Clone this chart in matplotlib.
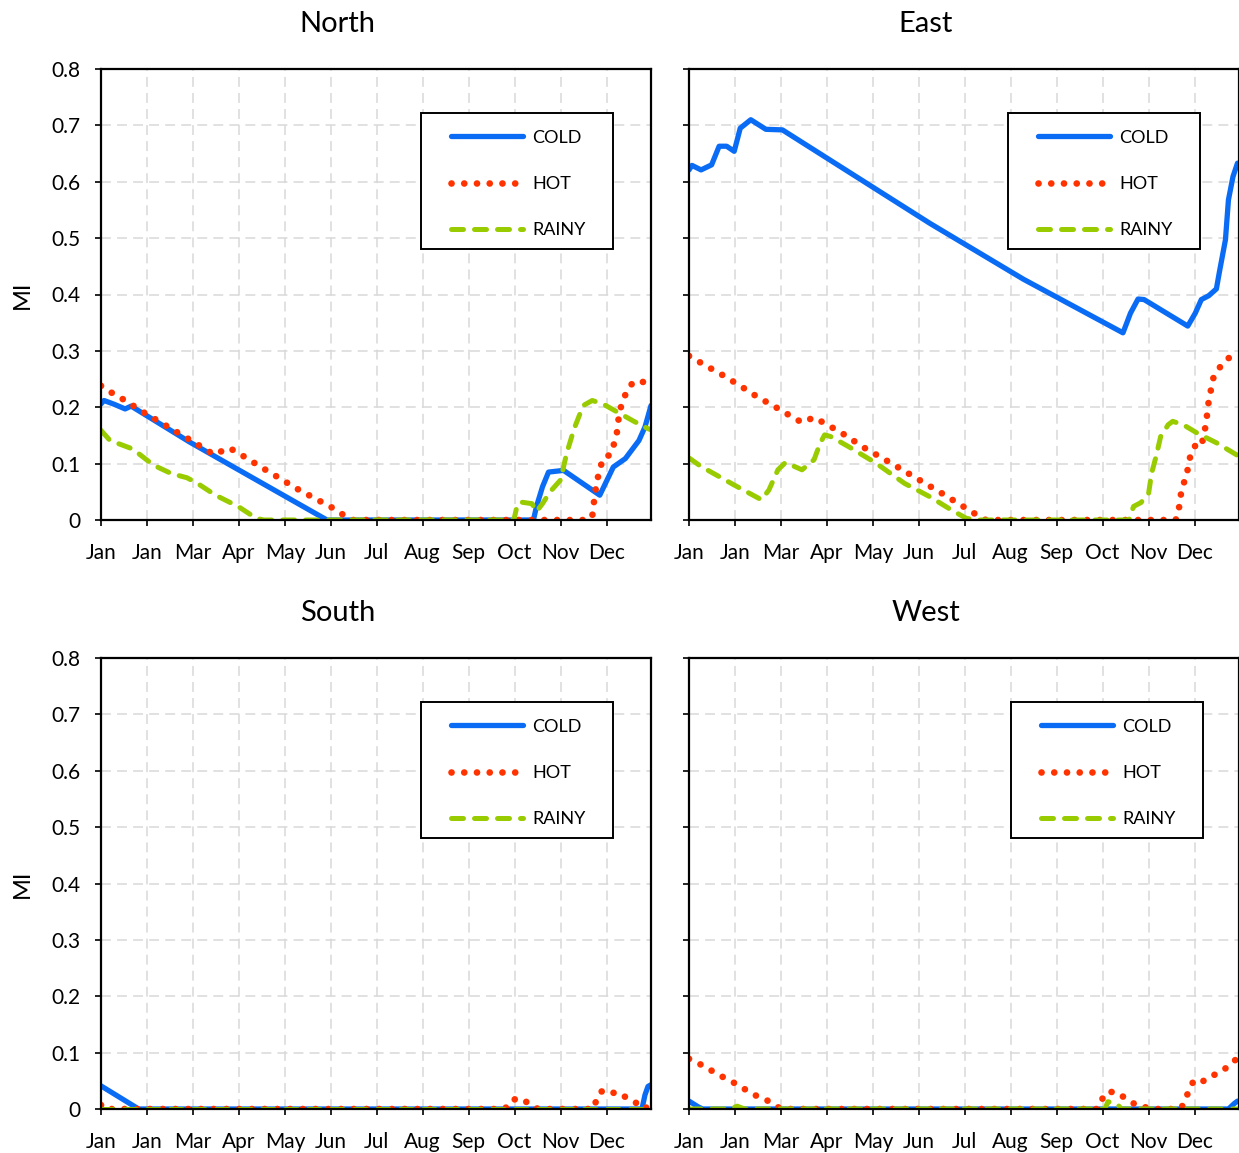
import numpy as np
import matplotlib
matplotlib.use("Agg")
import matplotlib.pyplot as plt
from matplotlib.patches import Rectangle

plt.rcParams['font.family'] = ['Lato', 'DejaVu Sans']

# --- data (day of year, MI) ---
month_labels = ['Jan', 'Jan', 'Mar', 'Apr', 'May', 'Jun', 'Jul', 'Aug', 'Sep', 'Oct', 'Nov', 'Dec']
regions = ['North', 'East', 'South', 'West']
series_names = ['COLD', 'HOT', 'RAINY']

north_cold_x = [0, 2, 9, 16, 20, 59, 88, 146, 150, 287, 289, 293, 297, 307, 331, 340, 348, 357, 361, 365]
north_cold_y = [0.206, 0.212, 0.205, 0.197, 0.202, 0.138, 0.094, 0.006, 0, 0, 0.024, 0.059, 0.085,
                0.088, 0.044, 0.094, 0.109, 0.141, 0.165, 0.203]
north_hot_x = [0, 5, 16, 27, 44, 61, 75, 85, 91, 108, 131, 154, 166, 323, 326, 327, 329, 333, 338,
               342, 344, 346, 349, 353, 358, 365]
north_hot_y = [0.238, 0.229, 0.212, 0.193, 0.166, 0.139, 0.116, 0.128, 0.119, 0.091, 0.054, 0.021, 0,
               0, 0.006, 0.029, 0.068, 0.109, 0.116, 0.147, 0.191, 0.209, 0.229, 0.244, 0.247, 0.238]
north_rainy_x = [0, 6, 21, 35, 47, 57, 64, 76, 91, 103, 108, 274, 276, 278, 286, 289, 293, 298, 305,
                 309, 314, 320, 326, 333, 343, 353, 363, 365]
north_rainy_y = [0.159, 0.141, 0.126, 0.097, 0.082, 0.075, 0.065, 0.044, 0.024, 0.003, 0, 0, 0.024,
                 0.032, 0.029, 0.015, 0.029, 0.05, 0.071, 0.118, 0.162, 0.203, 0.212, 0.206, 0.191,
                 0.176, 0.162, 0.16]

east_cold_x = [0, 2, 8, 15, 20, 25, 30, 34, 41, 51, 62, 160, 222, 288, 293, 298, 302, 331, 336, 340,
               345, 350, 352, 356, 358, 361, 364]
east_cold_y = [0.621, 0.629, 0.621, 0.63, 0.663, 0.663, 0.654, 0.695, 0.71, 0.693, 0.692, 0.526, 0.427,
               0.332, 0.367, 0.392, 0.391, 0.344, 0.367, 0.391, 0.398, 0.41, 0.44, 0.497, 0.568,
               0.609, 0.633]
east_hot_x = [0, 11, 23, 34, 45, 57, 69, 75, 83, 89, 101, 117, 134, 151, 168, 185, 191, 197, 323, 325,
              327, 330, 333, 336, 340, 343, 345, 348, 352, 358, 365]
east_hot_y = [0.291, 0.274, 0.256, 0.238, 0.219, 0.201, 0.182, 0.173, 0.182, 0.173, 0.155, 0.127, 0.101,
              0.074, 0.047, 0.019, 0.009, 0, 0, 0.018, 0.056, 0.077, 0.118, 0.132, 0.13, 0.169, 0.213,
              0.252, 0.27, 0.287, 0.296]
east_rainy_x = [0, 8, 18, 30, 39, 48, 53, 59, 64, 75, 83, 87, 90, 94, 106, 124, 143, 160, 174, 184, 191,
                292, 295, 300, 305, 307, 310, 313, 318, 321, 328, 338, 350, 365]
east_rainy_y = [0.11, 0.095, 0.08, 0.062, 0.049, 0.036, 0.053, 0.089, 0.102, 0.089, 0.107, 0.136, 0.151,
                0.148, 0.13, 0.101, 0.065, 0.041, 0.018, 0.003, 0, 0, 0.024, 0.031, 0.047, 0.083, 0.113,
                0.148, 0.169, 0.175, 0.169, 0.153, 0.137, 0.113]

south_cold_x = [0, 25, 359, 361, 363, 365]
south_cold_y = [0.041, 0, 0, 0.025, 0.04, 0.043]
south_hot_x = [0, 2, 268, 270, 273, 275, 282, 287, 290, 327, 329, 332, 338, 343, 346, 353, 357, 360, 365]
south_hot_y = [0.007, 0, 0, 0.007, 0.01, 0.019, 0.013, 0.005, 0, 0, 0.019, 0.031, 0.033, 0.023, 0.024,
               0.015, 0.007, 0, 0.007]
south_rainy_x = [0, 365]
south_rainy_y = [0, 0]

west_cold_x = [0, 6, 9, 358, 362, 364]
west_cold_y = [0.014, 0.004, 0, 0, 0.01, 0.014]
west_hot_x = [0, 5, 11, 17, 23, 29, 34, 41, 46, 52, 58, 61, 271, 274, 276, 282, 288, 293, 299, 303, 308,
              325, 327, 329, 332, 335, 341, 345, 350, 354, 358, 362, 364]
west_hot_y = [0.089, 0.083, 0.074, 0.065, 0.056, 0.048, 0.039, 0.03, 0.021, 0.015, 0.005, 0, 0, 0.016,
              0.028, 0.031, 0.022, 0.013, 0.004, 0.003, 0, 0, 0.003, 0.016, 0.033, 0.051, 0.049, 0.057,
              0.062, 0.068, 0.076, 0.086, 0.089]
west_rainy_x = [0, 27, 32, 34, 37, 276, 278, 281, 284, 287, 365]
west_rainy_y = [0, 0, 0.005, 0.003, 0, 0, 0.013, 0.011, 0.009, 0, 0]

panel_data = {
    'North': [(north_cold_x, north_cold_y), (north_hot_x, north_hot_y), (north_rainy_x, north_rainy_y)],
    'East': [(east_cold_x, east_cold_y), (east_hot_x, east_hot_y), (east_rainy_x, east_rainy_y)],
    'South': [(south_cold_x, south_cold_y), (south_hot_x, south_hot_y), (south_rainy_x, south_rainy_y)],
    'West': [(west_cold_x, west_cold_y), (west_hot_x, west_hot_y), (west_rainy_x, west_rainy_y)],
}

# --- styling ---
W, H = 1239, 1153
tick_step = 30.5
styles = [
    dict(color='#0A6CF5', lw=3.8, linestyle='-', solid_capstyle='round', solid_joinstyle='round'),
    dict(color='#FF3300', lw=4.8, linestyle=(0, (0.01, 1.9)), dash_capstyle='round'),
    dict(color='#99CC00', lw=3.6, linestyle=(0, (2.4, 2.2)), dash_capstyle='round'),
]
# axes boxes in pixels: left, top
boxes = {'North': (101, 69), 'East': (689, 69), 'South': (101, 658), 'West': (689, 658)}
legend_left = {'North': 0.582, 'East': 0.58, 'South': 0.582, 'West': 0.586}
ax_w, ax_h = 550, 451

fig = plt.figure(figsize=(W / 100, H / 100), dpi=100)

for name in regions:
    left, top = boxes[name]
    ax = fig.add_axes([left / W, 1 - (top + ax_h) / H, ax_w / W, ax_h / H])

    for (xs, ys), label, st in zip(panel_data[name], series_names, styles):
        ax.plot(xs, ys, label=label, **st)

    ax.set_xlim(0, 365)
    ax.set_ylim(0, 0.8)
    ax.set_xticks(np.arange(12) * tick_step)
    ax.set_xticklabels(month_labels)
    yt = np.round(np.arange(0, 0.81, 0.1), 1)
    ax.set_yticks(yt)
    ax.set_yticklabels(['0'] + [f'{v:.1f}' for v in yt[1:]])
    ax.tick_params(direction='out', length=4.5, width=1.2, labelsize=15, color='black')
    ax.tick_params(axis='y', pad=10)
    ax.tick_params(axis='x', pad=12)
    if name in ('East', 'West'):
        ax.tick_params(axis='y', labelleft=False)
    ax.grid(True, color='#D9D9D9', linestyle=(0, (6.5, 4)), lw=1.1)
    ax.set_axisbelow(True)
    for sp in ax.spines.values():
        sp.set_linewidth(1.6)
        sp.set_color('black')

    ax.text(0.43, 1.1, name, transform=ax.transAxes, ha='center', va='center', fontsize=21)

    lx = legend_left[name]
    ax.add_patch(Rectangle((lx, 0.601), 0.349, 0.3015, transform=ax.transAxes,
                           fill=True, facecolor='white', edgecolor='black', lw=1.4, zorder=4))
    leg = ax.legend(loc='center left', bbox_to_anchor=(lx + 0.0545, 0.745), frameon=False,
                    borderpad=0, handlelength=4.0, handletextpad=0.5, labelspacing=1.68,
                    fontsize=13, borderaxespad=0)
    leg.set_zorder(5)

    if name in ('North', 'South'):
        fig.text(22 / W, 1 - (top + ax_h / 2) / H, 'MI', rotation=90, ha='center', va='center',
                 fontsize=17)

fig.savefig('out.png', dpi=100)
